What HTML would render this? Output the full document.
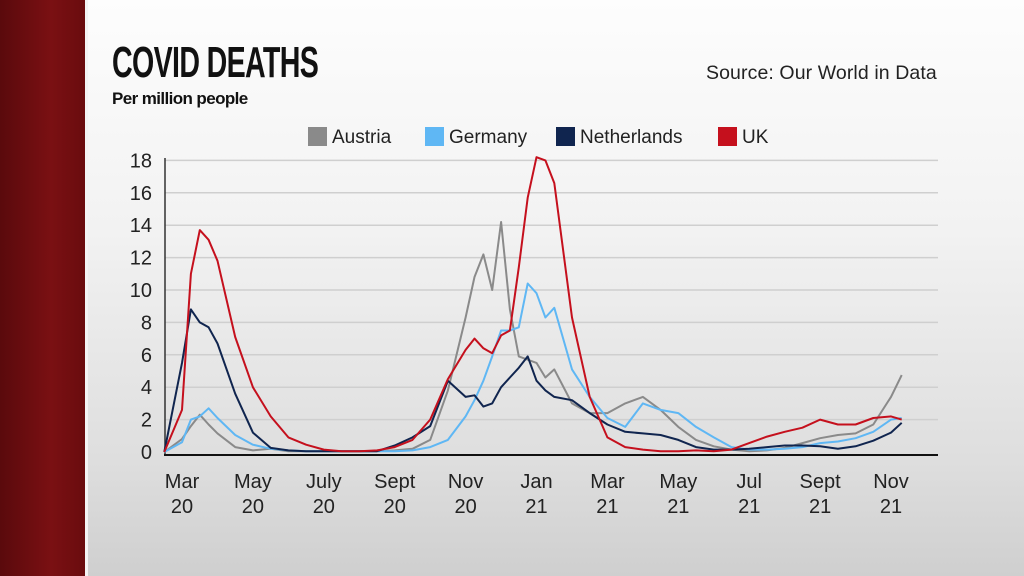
<!DOCTYPE html>
<html><head><meta charset="utf-8"><style>
html,body{margin:0;padding:0;width:1024px;height:576px;overflow:hidden;font-family:"Liberation Sans",sans-serif}
#bg{position:absolute;left:0;top:0;width:1024px;height:576px;background:linear-gradient(#fdfdfd 0%,#f2f2f2 40%,#dedede 80%,#cfcfcf 100%)}
#strip{position:absolute;left:0;top:0;width:85px;height:576px;background:linear-gradient(90deg,#5a0a0c,#7a1013 60%,#6a0c0e);border-right:3px solid #f4f4f4}
#title{position:absolute;left:112px;top:40px;font-size:44px;font-weight:bold;color:#111;transform:scaleX(0.65);transform-origin:left top;letter-spacing:-1px;line-height:46px}
#sub{position:absolute;left:112px;top:89px;font-size:17px;font-weight:bold;color:#111;letter-spacing:-0.6px}
#src{position:absolute;left:706px;top:62px;font-size:19.5px;letter-spacing:0.1px;color:#222}
</style></head><body>
<div id="bg"></div>
<div id="strip"></div>
<div id="title">COVID DEATHS</div>
<div id="sub">Per million people</div>
<div id="src">Source: Our World in Data</div>
<svg id="chart" width="1024" height="576" style="position:absolute;left:0;top:0"></svg>
<script>
const months=[0,0.5,0.75,1,1.25,1.5,2,2.5,3,3.5,4,4.5,5,5.5,6,6.5,7,7.5,8,8.5,8.75,9,9.25,9.5,9.75,10,10.25,10.5,10.75,11,11.5,12,12.5,13,13.5,14,14.5,15,15.5,16,16.5,17,17.5,18,18.5,19,19.5,20,20.5,20.8];
const austria=[0,0.8,1.6,2.3,1.7,1.15,0.3,0.1,0.2,0.05,0.05,0.05,0.05,0.05,0.05,0.1,0.2,0.75,3.8,8.3,10.8,12.2,10,14.2,8.8,5.9,5.7,5.5,4.6,5.1,3.0,2.4,2.4,3.0,3.4,2.6,1.55,0.75,0.35,0.15,0.05,0.1,0.25,0.55,0.85,1.05,1.15,1.7,3.4,4.75];
const germany=[0,0.6,2.0,2.2,2.7,2.1,1.05,0.45,0.2,0.1,0.05,0.05,0.05,0.05,0.05,0.05,0.1,0.3,0.75,2.2,3.2,4.4,5.9,7.5,7.5,7.7,10.4,9.8,8.3,8.9,5.1,3.4,2.1,1.55,3.0,2.6,2.4,1.55,0.9,0.3,0.15,0.15,0.2,0.3,0.55,0.65,0.85,1.25,2.0,2.1];
const netherlands=[0,5.5,8.8,8.0,7.7,6.7,3.6,1.2,0.25,0.1,0.05,0.05,0.05,0.05,0.05,0.4,0.9,1.6,4.4,3.4,3.5,2.8,3.0,4.0,4.6,5.2,5.9,4.4,3.8,3.4,3.2,2.4,1.7,1.25,1.15,1.05,0.75,0.3,0.15,0.15,0.2,0.3,0.4,0.4,0.35,0.2,0.35,0.7,1.2,1.8];
const uk=[0,2.6,11,13.7,13.1,11.8,7.1,4.0,2.2,0.9,0.45,0.15,0.05,0.05,0.1,0.3,0.75,2.0,4.5,6.3,7.0,6.4,6.1,7.2,7.5,11.4,15.7,18.2,18.0,16.6,8.3,3.4,0.9,0.3,0.15,0.05,0.05,0.1,0.05,0.15,0.55,0.95,1.25,1.5,2.0,1.7,1.7,2.1,2.2,2.0];
const yTicks=[0,2,4,6,8,10,12,14,16,18];
const xTickMonths=[0.5,2.5,4.5,6.5,8.5,10.5,12.5,14.5,16.5,18.5,20.5];
const xTickTop=["Mar","May","July","Sept","Nov","Jan","Mar","May","Jul","Sept","Nov"];
const xTickBot=["20","20","20","20","20","21","21","21","21","21","21"];
const seriesNames=["Austria","Germany","Netherlands","UK"];
const seriesColors=["#8a8a8a","#5fb7f4","#10254f","#c5101d"];
const seriesData=[austria,germany,netherlands,uk];

const NS="http://www.w3.org/2000/svg";
const svg=document.getElementById('chart');
const X0=164.3,XM=35.45,Y0=452,YU=16.2;
function xs(m){return X0+m*XM;}
function ys(v){return Y0-v*YU;}
function mk(tag,attrs,parent){const e=document.createElementNS(NS,tag);for(const k in attrs)e.setAttribute(k,attrs[k]);(parent||svg).appendChild(e);return e;}

yTicks.forEach(t=>{
  if(t>0){const g=mk('line',{x1:165,x2:938,y1:ys(t),y2:ys(t),stroke:'#cfcfcf','stroke-width':1.5});
  
  }
  const l=mk('text',{x:152,y:ys(t)+7,'text-anchor':'end','font-size':20,fill:'#222','font-family':'Liberation Sans, sans-serif'});
  l.textContent=t;
  
  
});
const ax=mk('line',{x1:165,x2:165,y1:158,y2:455,stroke:'#333','stroke-width':1.5});


const bx=mk('line',{x1:164,x2:938,y1:455,y2:455,stroke:'#111','stroke-width':2});



xTickMonths.forEach((m,i)=>{
  const t=mk('text',{x:xs(m),y:488,'text-anchor':'middle','font-size':20,fill:'#222','font-family':'Liberation Sans, sans-serif'});
  t.textContent=xTickTop[i];
  
  
  const b=mk('text',{x:xs(m),y:513,'text-anchor':'middle','font-size':20,fill:'#222','font-family':'Liberation Sans, sans-serif'});
  b.textContent=xTickBot[i];
  
  
});

seriesData.forEach((d,si)=>{
  const p=months.map((m,i)=>xs(m).toFixed(1)+','+ys(d[i]).toFixed(1)).join(' ');
  const pl=mk('polyline',{points:p,fill:'none',stroke:seriesColors[si],'stroke-width':2,'stroke-linejoin':'round'});
  
  
});

const legX=[308,425,556,718];
seriesNames.forEach((n,i)=>{
  const g=mk('g',{});
  
  
  mk('rect',{x:legX[i],y:127,width:19,height:19,fill:seriesColors[i]},g);
  const t=mk('text',{x:legX[i]+24,y:143,'font-size':19,fill:'#222','font-family':'Liberation Sans, sans-serif'},g);
  t.textContent=n;
});
</script>
</body></html>
